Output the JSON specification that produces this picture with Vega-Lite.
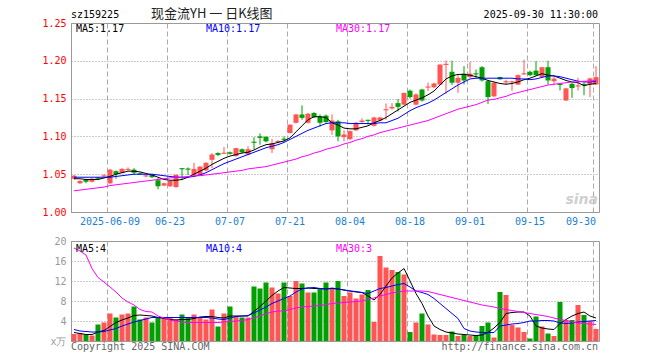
{
"$schema": "https://vega.github.io/schema/vega-lite/v6.json",
"background": "white",
"padding": {"left": 41, "top": 7, "right": 10, "bottom": 5},
"bounds": "flush",
"spacing": 29,
"config": {"view": {"stroke": "#999999", "strokeWidth": 1}, "axis": {"labelFont": "DejaVu Sans Mono", "labelFontSize": 10, "labelOverlap": false}, "text": {"font": "DejaVu Sans Mono", "fontSize": 10}},
"resolve": {"scale": {"x": "independent"}},
"datasets": {"k": [
{"d":"2025-05-29","o":1.044,"h":1.049,"l":1.043,"c":1.048,"v":1.4,"m5":1.044,"m10":1.046,"m30":1.028,"vm5":1.7,"vm10":2.3,"vm30":18.6},
{"d":"2025-05-30","o":1.038,"h":1.042,"l":1.037,"c":1.041,"v":1.6,"m5":1.044,"m10":1.046,"m30":1.029,"vm5":1.5,"vm10":2.0,"vm30":18.0},
{"d":"2025-06-03","o":1.043,"h":1.044,"l":1.038,"c":1.040,"v":1.3,"m5":1.043,"m10":1.046,"m30":1.030,"vm5":1.3,"vm10":1.9,"vm30":17.2},
{"d":"2025-06-04","o":1.040,"h":1.045,"l":1.039,"c":1.044,"v":1.1,"m5":1.043,"m10":1.046,"m30":1.031,"vm5":1.3,"vm10":1.8,"vm30":14.5},
{"d":"2025-06-05","o":1.0455,"h":1.046,"l":1.042,"c":1.044,"v":3.3,"m5":1.043,"m10":1.046,"m30":1.032,"vm5":1.8,"vm10":1.8,"vm30":12.7},
{"d":"2025-06-06","o":1.047,"h":1.050,"l":1.046,"c":1.0485,"v":3.7,"m5":1.045,"m10":1.046,"m30":1.033,"vm5":2.1,"vm10":1.9,"vm30":11.8},
{"d":"2025-06-09","o":1.038,"h":1.057,"l":1.037,"c":1.056,"v":5.5,"m5":1.047,"m10":1.046,"m30":1.035,"vm5":2.9,"vm10":2.2,"vm30":10.8},
{"d":"2025-06-10","o":1.054,"h":1.055,"l":1.044,"c":1.050,"v":4.7,"m5":1.050,"m10":1.047,"m30":1.036,"vm5":3.7,"vm10":2.5,"vm30":9.8},
{"d":"2025-06-11","o":1.052,"h":1.058,"l":1.051,"c":1.057,"v":5.3,"m5":1.052,"m10":1.048,"m30":1.037,"vm5":4.2,"vm10":3.0,"vm30":8.6},
{"d":"2025-06-12","o":1.0555,"h":1.059,"l":1.055,"c":1.057,"v":5.5,"m5":1.054,"m10":1.049,"m30":1.038,"vm5":4.6,"vm10":3.4,"vm30":7.8},
{"d":"2025-06-13","o":1.056,"h":1.058,"l":1.049,"c":1.052,"v":6.9,"m5":1.054,"m10":1.050,"m30":1.039,"vm5":5.1,"vm10":3.8,"vm30":7.2},
{"d":"2025-06-16","o":1.051,"h":1.052,"l":1.049,"c":1.0495,"v":4.3,"m5":1.053,"m10":1.050,"m30":1.040,"vm5":5.2,"vm10":4.1,"vm30":6.3},
{"d":"2025-06-17","o":1.047,"h":1.050,"l":1.046,"c":1.0485,"v":4.7,"m5":1.051,"m10":1.050,"m30":1.041,"vm5":5.1,"vm10":4.4,"vm30":5.9},
{"d":"2025-06-18","o":1.049,"h":1.050,"l":1.045,"c":1.046,"v":3.7,"m5":1.049,"m10":1.050,"m30":1.042,"vm5":5.0,"vm10":4.7,"vm30":5.8},
{"d":"2025-06-19","o":1.042,"h":1.045,"l":1.030,"c":1.034,"v":4.7,"m5":1.046,"m10":1.049,"m30":1.043,"vm5":4.7,"vm10":4.7,"vm30":5.0},
{"d":"2025-06-20","o":1.035,"h":1.039,"l":1.034,"c":1.038,"v":4.5,"m5":1.043,"m10":1.048,"m30":1.044,"vm5":4.5,"vm10":4.7,"vm30":4.6},
{"d":"2025-06-23","o":1.034,"h":1.042,"l":1.033,"c":1.041,"v":4.7,"m5":1.042,"m10":1.047,"m30":1.045,"vm5":4.3,"vm10":4.7,"vm30":4.2},
{"d":"2025-06-24","o":1.033,"h":1.050,"l":1.032,"c":1.049,"v":4.3,"m5":1.042,"m10":1.046,"m30":1.046,"vm5":4.2,"vm10":4.7,"vm30":4.0},
{"d":"2025-06-25","o":1.058,"h":1.058,"l":1.042,"c":1.0565,"v":5.3,"m5":1.043,"m10":1.046,"m30":1.046,"vm5":4.3,"vm10":4.7,"vm30":3.8},
{"d":"2025-06-26","o":1.0575,"h":1.059,"l":1.049,"c":1.056,"v":4.7,"m5":1.046,"m10":1.046,"m30":1.047,"vm5":4.3,"vm10":4.7,"vm30":3.7},
{"d":"2025-06-27","o":1.049,"h":1.065,"l":1.048,"c":1.057,"v":5.3,"m5":1.050,"m10":1.047,"m30":1.048,"vm5":4.5,"vm10":4.7,"vm30":3.7},
{"d":"2025-06-30","o":1.049,"h":1.061,"l":1.048,"c":1.060,"v":4.7,"m5":1.054,"m10":1.049,"m30":1.048,"vm5":4.8,"vm10":4.7,"vm30":3.7},
{"d":"2025-07-01","o":1.055,"h":1.066,"l":1.054,"c":1.065,"v":4.3,"m5":1.058,"m10":1.052,"m30":1.049,"vm5":4.9,"vm10":4.7,"vm30":3.7},
{"d":"2025-07-02","o":1.069,"h":1.078,"l":1.058,"c":1.076,"v":6.3,"m5":1.063,"m10":1.056,"m30":1.050,"vm5":4.9,"vm10":4.6,"vm30":3.7},
{"d":"2025-07-03","o":1.078,"h":1.079,"l":1.074,"c":1.0755,"v":2.9,"m5":1.067,"m10":1.060,"m30":1.051,"vm5":4.7,"vm10":4.4,"vm30":3.7},
{"d":"2025-07-04","o":1.077,"h":1.086,"l":1.077,"c":1.0785,"v":5.5,"m5":1.071,"m10":1.064,"m30":1.052,"vm5":4.6,"vm10":4.3,"vm30":3.8},
{"d":"2025-07-07","o":1.079,"h":1.080,"l":1.076,"c":1.077,"v":6.9,"m5":1.074,"m10":1.067,"m30":1.053,"vm5":5.0,"vm10":4.6,"vm30":3.9},
{"d":"2025-07-08","o":1.074,"h":1.085,"l":1.073,"c":1.0845,"v":5.0,"m5":1.076,"m10":1.070,"m30":1.054,"vm5":5.0,"vm10":4.9,"vm30":4.0},
{"d":"2025-07-09","o":1.083,"h":1.084,"l":1.078,"c":1.079,"v":4.7,"m5":1.078,"m10":1.073,"m30":1.055,"vm5":5.0,"vm10":5.0,"vm30":4.1},
{"d":"2025-07-10","o":1.076,"h":1.087,"l":1.075,"c":1.083,"v":4.7,"m5":1.079,"m10":1.076,"m30":1.057,"vm5":5.0,"vm10":5.1,"vm30":4.3},
{"d":"2025-07-11","o":1.093,"h":1.099,"l":1.083,"c":1.0915,"v":10.9,"m5":1.082,"m10":1.079,"m30":1.058,"vm5":5.9,"vm10":5.6,"vm30":4.6},
{"d":"2025-07-14","o":1.100,"h":1.104,"l":1.089,"c":1.098,"v":10.5,"m5":1.086,"m10":1.082,"m30":1.059,"vm5":6.9,"vm10":6.2,"vm30":5.0},
{"d":"2025-07-15","o":1.0995,"h":1.100,"l":1.092,"c":1.0935,"v":11.7,"m5":1.089,"m10":1.085,"m30":1.060,"vm5":8.0,"vm10":6.8,"vm30":5.5},
{"d":"2025-07-16","o":1.083,"h":1.0965,"l":1.078,"c":1.091,"v":10.7,"m5":1.090,"m10":1.087,"m30":1.062,"vm5":9.1,"vm10":7.5,"vm30":5.8},
{"d":"2025-07-17","o":1.0925,"h":1.095,"l":1.091,"c":1.094,"v":9.5,"m5":1.092,"m10":1.089,"m30":1.064,"vm5":10.0,"vm10":8.0,"vm30":6.0},
{"d":"2025-07-18","o":1.097,"h":1.100,"l":1.093,"c":1.0955,"v":11.7,"m5":1.094,"m10":1.092,"m30":1.066,"vm5":10.7,"vm10":8.5,"vm30":6.0},
{"d":"2025-07-21","o":1.1045,"h":1.116,"l":1.104,"c":1.1155,"v":9.0,"m5":1.098,"m10":1.096,"m30":1.068,"vm5":10.6,"vm10":9.0,"vm30":6.3},
{"d":"2025-07-22","o":1.118,"h":1.130,"l":1.117,"c":1.129,"v":12.0,"m5":1.106,"m10":1.100,"m30":1.070,"vm5":10.5,"vm10":9.8,"vm30":6.6},
{"d":"2025-07-23","o":1.129,"h":1.141,"l":1.122,"c":1.1245,"v":11.5,"m5":1.114,"m10":1.104,"m30":1.073,"vm5":10.5,"vm10":10.4,"vm30":6.8},
{"d":"2025-07-24","o":1.118,"h":1.131,"l":1.117,"c":1.130,"v":9.7,"m5":1.122,"m10":1.108,"m30":1.075,"vm5":10.6,"vm10":10.6,"vm30":6.9},
{"d":"2025-07-25","o":1.131,"h":1.132,"l":1.1245,"c":1.1255,"v":9.7,"m5":1.126,"m10":1.111,"m30":1.078,"vm5":10.5,"vm10":10.7,"vm30":7.0},
{"d":"2025-07-28","o":1.1265,"h":1.129,"l":1.113,"c":1.118,"v":10.5,"m5":1.126,"m10":1.114,"m30":1.080,"vm5":10.5,"vm10":10.5,"vm30":7.1},
{"d":"2025-07-29","o":1.1275,"h":1.129,"l":1.118,"c":1.119,"v":11.7,"m5":1.125,"m10":1.117,"m30":1.083,"vm5":10.4,"vm10":10.4,"vm30":7.3},
{"d":"2025-07-30","o":1.108,"h":1.129,"l":1.102,"c":1.121,"v":10.6,"m5":1.118,"m10":1.118,"m30":1.085,"vm5":10.5,"vm10":10.6,"vm30":7.5},
{"d":"2025-07-31","o":1.120,"h":1.122,"l":1.0935,"c":1.100,"v":12.0,"m5":1.115,"m10":1.118,"m30":1.087,"vm5":10.4,"vm10":10.4,"vm30":7.6},
{"d":"2025-08-01","o":1.099,"h":1.108,"l":1.0935,"c":1.1025,"v":9.0,"m5":1.111,"m10":1.118,"m30":1.090,"vm5":10.2,"vm10":10.2,"vm30":7.7},
{"d":"2025-08-04","o":1.0965,"h":1.108,"l":1.095,"c":1.107,"v":9.7,"m5":1.110,"m10":1.117,"m30":1.092,"vm5":10.0,"vm10":10.0,"vm30":7.8},
{"d":"2025-08-05","o":1.108,"h":1.119,"l":1.107,"c":1.118,"v":8.5,"m5":1.110,"m10":1.117,"m30":1.095,"vm5":9.8,"vm10":9.9,"vm30":7.9},
{"d":"2025-08-06","o":1.119,"h":1.124,"l":1.118,"c":1.121,"v":9.3,"m5":1.112,"m10":1.117,"m30":1.097,"vm5":9.7,"vm10":9.7,"vm30":8.0},
{"d":"2025-08-07","o":1.122,"h":1.122,"l":1.1155,"c":1.1205,"v":10.2,"m5":1.114,"m10":1.117,"m30":1.100,"vm5":9.0,"vm10":9.5,"vm30":8.3},
{"d":"2025-08-08","o":1.114,"h":1.126,"l":1.113,"c":1.125,"v":3.8,"m5":1.118,"m10":1.117,"m30":1.102,"vm5":8.2,"vm10":10.0,"vm30":8.6},
{"d":"2025-08-11","o":1.121,"h":1.126,"l":1.120,"c":1.125,"v":17.0,"m5":1.121,"m10":1.118,"m30":1.105,"vm5":9.3,"vm10":10.5,"vm30":9.0},
{"d":"2025-08-12","o":1.1345,"h":1.1435,"l":1.122,"c":1.136,"v":14.7,"m5":1.125,"m10":1.118,"m30":1.107,"vm5":11.0,"vm10":10.7,"vm30":9.3},
{"d":"2025-08-13","o":1.137,"h":1.144,"l":1.1355,"c":1.139,"v":14.2,"m5":1.130,"m10":1.121,"m30":1.109,"vm5":12.6,"vm10":11.0,"vm30":9.6},
{"d":"2025-08-14","o":1.144,"h":1.1495,"l":1.133,"c":1.139,"v":13.8,"m5":1.135,"m10":1.124,"m30":1.111,"vm5":13.6,"vm10":11.3,"vm30":9.8},
{"d":"2025-08-15","o":1.142,"h":1.158,"l":1.141,"c":1.1575,"v":13.3,"m5":1.140,"m10":1.129,"m30":1.113,"vm5":14.5,"vm10":11.5,"vm30":10.0},
{"d":"2025-08-18","o":1.1605,"h":1.162,"l":1.150,"c":1.152,"v":1.8,"m5":1.145,"m10":1.134,"m30":1.115,"vm5":12.0,"vm10":10.8,"vm30":10.0},
{"d":"2025-08-19","o":1.142,"h":1.157,"l":1.141,"c":1.1555,"v":3.7,"m5":1.148,"m10":1.138,"m30":1.117,"vm5":9.5,"vm10":10.0,"vm30":10.0},
{"d":"2025-08-20","o":1.162,"h":1.163,"l":1.146,"c":1.1475,"v":5.5,"m5":1.151,"m10":1.141,"m30":1.119,"vm5":7.5,"vm10":9.7,"vm30":10.0},
{"d":"2025-08-21","o":1.1645,"h":1.171,"l":1.160,"c":1.166,"v":3.3,"m5":1.155,"m10":1.144,"m30":1.121,"vm5":5.0,"vm10":9.3,"vm30":9.9},
{"d":"2025-08-22","o":1.165,"h":1.171,"l":1.164,"c":1.170,"v":1.3,"m5":1.160,"m10":1.148,"m30":1.124,"vm5":3.0,"vm10":8.5,"vm30":9.6},
{"d":"2025-08-25","o":1.1685,"h":1.1955,"l":1.168,"c":1.195,"v":1.2,"m5":1.168,"m10":1.153,"m30":1.127,"vm5":2.3,"vm10":7.5,"vm30":9.3},
{"d":"2025-08-26","o":1.1945,"h":1.2005,"l":1.1565,"c":1.196,"v":1.2,"m5":1.176,"m10":1.158,"m30":1.130,"vm5":1.8,"vm10":6.5,"vm30":9.0},
{"d":"2025-08-27","o":1.1855,"h":1.200,"l":1.168,"c":1.171,"v":1.9,"m5":1.180,"m10":1.163,"m30":1.133,"vm5":1.6,"vm10":5.5,"vm30":8.7},
{"d":"2025-08-28","o":1.171,"h":1.181,"l":1.1575,"c":1.1775,"v":1.0,"m5":1.182,"m10":1.168,"m30":1.136,"vm5":1.4,"vm10":4.5,"vm30":8.4},
{"d":"2025-08-29","o":1.183,"h":1.193,"l":1.1687,"c":1.174,"v":1.2,"m5":1.182,"m10":1.172,"m30":1.138,"vm5":1.3,"vm10":2.5,"vm30":8.1},
{"d":"2025-09-01","o":1.1785,"h":1.1985,"l":1.177,"c":1.183,"v":1.0,"m5":1.181,"m10":1.176,"m30":1.140,"vm5":1.2,"vm10":2.0,"vm30":7.8},
{"d":"2025-09-02","o":1.1835,"h":1.1885,"l":1.1775,"c":1.182,"v":1.2,"m5":1.179,"m10":1.177,"m30":1.142,"vm5":1.1,"vm10":1.8,"vm30":7.5},
{"d":"2025-09-03","o":1.1915,"h":1.193,"l":1.1725,"c":1.174,"v":3.0,"m5":1.177,"m10":1.177,"m30":1.145,"vm5":1.2,"vm10":1.7,"vm30":7.2},
{"d":"2025-09-04","o":1.173,"h":1.1745,"l":1.143,"c":1.152,"v":3.7,"m5":1.174,"m10":1.177,"m30":1.148,"vm5":1.7,"vm10":1.7,"vm30":7.0},
{"d":"2025-09-05","o":1.153,"h":1.172,"l":1.152,"c":1.171,"v":0.7,"m5":1.172,"m10":1.177,"m30":1.149,"vm5":2.6,"vm10":1.7,"vm30":6.8},
{"d":"2025-09-08","o":1.1785,"h":1.179,"l":1.175,"c":1.1755,"v":9.8,"m5":1.170,"m10":1.177,"m30":1.151,"vm5":3.7,"vm10":3.0,"vm30":6.5},
{"d":"2025-09-09","o":1.1715,"h":1.175,"l":1.169,"c":1.173,"v":9.2,"m5":1.169,"m10":1.177,"m30":1.153,"vm5":5.5,"vm10":3.2,"vm30":6.3},
{"d":"2025-09-10","o":1.1715,"h":1.1735,"l":1.1605,"c":1.173,"v":3.2,"m5":1.170,"m10":1.177,"m30":1.156,"vm5":5.7,"vm10":3.4,"vm30":6.1},
{"d":"2025-09-11","o":1.1685,"h":1.182,"l":1.168,"c":1.181,"v":2.7,"m5":1.172,"m10":1.176,"m30":1.158,"vm5":5.8,"vm10":3.5,"vm30":5.9},
{"d":"2025-09-12","o":1.182,"h":1.2015,"l":1.1815,"c":1.1835,"v":1.8,"m5":1.175,"m10":1.176,"m30":1.160,"vm5":5.8,"vm10":3.7,"vm30":5.7},
{"d":"2025-09-15","o":1.1855,"h":1.187,"l":1.180,"c":1.181,"v":0.5,"m5":1.177,"m10":1.175,"m30":1.162,"vm5":5.0,"vm10":4.0,"vm30":5.5},
{"d":"2025-09-16","o":1.187,"h":1.1995,"l":1.180,"c":1.181,"v":4.9,"m5":1.180,"m10":1.176,"m30":1.164,"vm5":3.0,"vm10":4.0,"vm30":5.3},
{"d":"2025-09-17","o":1.1785,"h":1.192,"l":1.178,"c":1.1915,"v":2.9,"m5":1.183,"m10":1.178,"m30":1.166,"vm5":2.6,"vm10":4.1,"vm30":5.1},
{"d":"2025-09-18","o":1.1915,"h":1.200,"l":1.1685,"c":1.174,"v":1.5,"m5":1.181,"m10":1.180,"m30":1.168,"vm5":2.4,"vm10":4.1,"vm30":4.9},
{"d":"2025-09-19","o":1.173,"h":1.1785,"l":1.1687,"c":1.1765,"v":1.0,"m5":1.180,"m10":1.180,"m30":1.169,"vm5":2.3,"vm10":4.0,"vm30":4.6},
{"d":"2025-09-22","o":1.1695,"h":1.1695,"l":1.1607,"c":1.168,"v":7.8,"m5":1.177,"m10":1.179,"m30":1.170,"vm5":3.5,"vm10":3.6,"vm30":4.3},
{"d":"2025-09-23","o":1.1475,"h":1.164,"l":1.147,"c":1.1635,"v":4.2,"m5":1.174,"m10":1.177,"m30":1.171,"vm5":4.3,"vm10":3.5,"vm30":4.1},
{"d":"2025-09-24","o":1.1695,"h":1.171,"l":1.151,"c":1.164,"v":4.2,"m5":1.172,"m10":1.175,"m30":1.172,"vm5":5.0,"vm10":3.6,"vm30":3.8},
{"d":"2025-09-25","o":1.166,"h":1.1775,"l":1.1607,"c":1.1675,"v":7.2,"m5":1.171,"m10":1.173,"m30":1.172,"vm5":5.5,"vm10":3.8,"vm30":3.6},
{"d":"2025-09-26","o":1.1695,"h":1.171,"l":1.1545,"c":1.168,"v":5.2,"m5":1.167,"m10":1.172,"m30":1.173,"vm5":5.8,"vm10":3.9,"vm30":3.5},
{"d":"2025-09-29","o":1.1687,"h":1.1775,"l":1.152,"c":1.1767,"v":4.0,"m5":1.169,"m10":1.172,"m30":1.173,"vm5":5.0,"vm10":4.0,"vm30":3.4},
{"d":"2025-09-30","o":1.1687,"h":1.193,"l":1.168,"c":1.1784,"v":2.4,"m5":1.170,"m10":1.173,"m30":1.174,"vm5":4.6,"vm10":4.1,"vm30":3.3}
]},
"vconcat": [
{
"width": 528, "height": 189,
"data": {"name": "k"},
"encoding": {
  "x": {"field": "d", "type": "ordinal", "scale": {"type": "band", "paddingInner": 0.16, "paddingOuter": 0.08},
        "axis": {"values": ["2025-06-09","2025-06-23","2025-07-07","2025-07-21","2025-08-04","2025-08-18","2025-09-01","2025-09-15","2025-09-30"],
                 "labelExpr": "datum.value == '2025-06-09' ? datum.value : substring(datum.value, 5, 10)",
                 "bandPosition": 0, "grid": true, "gridColor": "#aaaaaa", "gridDash": [5, 3], "ticks": false, "domain": false, "title": null,
                 "labelColor": "#1a7fd4", "labelPadding": 4, "labelAngle": 0, "labelOverlap": false,
                 "labelAlign": {"condition": {"test": "datum.value == '2025-09-30'", "value": "right"}, "value": "center"}}}
},
"layer": [
{"data": {"values": [{"t": "sina"}]}, "mark": {"type": "text", "align": "right", "baseline": "alphabetic", "color": "#cfcfcf", "font": "DejaVu Sans", "fontSize": 14, "fontWeight": "bold", "fontStyle": "italic"},
 "encoding": {"text": {"field": "t"}, "x": {"value": 527}, "y": {"value": 181}}},
{"mark": {"type": "rule", "strokeWidth": 1},
 "encoding": {
  "y": {"field": "l", "type": "quantitative", "scale": {"domain": [1, 1.25], "nice": false, "zero": false},
        "axis": {"values": [1, 1.05, 1.1, 1.15, 1.2, 1.25], "tickCount": 20, "format": ".2f", "labelColor": "#ff0000", "labelOverlap": false, "grid": true, "gridColor": "#999999", "gridDash": [1, 2], "ticks": false, "tickSize": 0, "domain": false, "title": null, "labelPadding": 5}},
  "y2": {"field": "h"},
  "color": {"condition": {"test": "datum.c >= datum.o", "value": "#ff5555"}, "value": "#00a000"}}},
{"mark": {"type": "bar"},
 "encoding": {
  "y": {"field": "o", "type": "quantitative", "axis": {"title": null, "tickCount": 20}},
  "y2": {"field": "c"},
  "color": {"condition": {"test": "datum.c >= datum.o", "value": "#ff5555"}, "value": "#00a000"}}},
{"mark": {"type": "line", "color": "#000000", "strokeWidth": 1},
 "encoding": {"y": {"field": "m5", "type": "quantitative", "axis": {"title": null, "tickCount": 20}}}},
{"mark": {"type": "line", "color": "#0000ff", "strokeWidth": 1},
 "encoding": {"y": {"field": "m10", "type": "quantitative", "axis": {"title": null, "tickCount": 20}}}},
{"mark": {"type": "line", "color": "#ff00ff", "strokeWidth": 1},
 "encoding": {"y": {"field": "m30", "type": "quantitative", "axis": {"title": null, "tickCount": 20}}}},
{"data": {"values": [{"t": "sz159225"}]}, "mark": {"type": "text", "align": "left", "baseline": "alphabetic", "color": "#000000", "fontSize": 10},
 "encoding": {"text": {"field": "t"}, "x": {"value": 0}, "y": {"value": -5}}},
{"data": {"values": [{"t": "现金流YH 一 日K线图"}]}, "mark": {"type": "text", "align": "left", "baseline": "alphabetic", "color": "#222222", "font": "Noto Sans CJK SC", "fontSize": 13},
 "encoding": {"text": {"field": "t"}, "x": {"value": 80}, "y": {"value": -5}}},
{"data": {"values": [{"t": "2025-09-30 11:30:00"}]}, "mark": {"type": "text", "align": "right", "baseline": "alphabetic", "color": "#000000", "fontSize": 10},
 "encoding": {"text": {"field": "t"}, "x": {"value": 527}, "y": {"value": -5}}},
{"data": {"values": [{"t": "MA5:1.17", "x": 5, "col": "#000000"}, {"t": "MA10:1.17", "x": 135, "col": "#0000ff"}, {"t": "MA30:1.17", "x": 265, "col": "#ff00ff"}]},
 "mark": {"type": "text", "align": "left", "baseline": "top", "fontSize": 10},
 "encoding": {"text": {"field": "t"}, "x": {"field": "x", "type": "quantitative", "scale": null}, "y": {"value": 1}, "color": {"field": "col", "type": "nominal", "scale": null}}}
]
},
{
"width": 528, "height": 100,
"data": {"name": "k"},
"encoding": {
  "x": {"field": "d", "type": "ordinal", "scale": {"type": "band", "paddingInner": 0.16, "paddingOuter": 0.08},
        "axis": {"values": ["2025-06-09","2025-06-23","2025-07-07","2025-07-21","2025-08-04","2025-08-18","2025-09-01","2025-09-15","2025-09-30"],
                 "bandPosition": 0, "grid": true, "gridColor": "#aaaaaa", "gridDash": [5, 3], "ticks": false, "domain": false, "labels": false, "title": null}}
},
"layer": [
{"data": {"values": [{"t": "sina"}]}, "mark": {"type": "text", "align": "right", "baseline": "alphabetic", "color": "#e6e6e6", "font": "DejaVu Sans", "fontSize": 14, "fontWeight": "bold", "fontStyle": "italic"},
 "encoding": {"text": {"field": "t"}, "x": {"value": 527}, "y": {"value": 94}}},
{"mark": {"type": "bar"},
 "encoding": {
  "y": {"field": "v", "type": "quantitative", "scale": {"domain": [0, 20], "nice": false},
        "axis": {"values": [0, 4, 8, 12, 16, 20], "tickCount": 20, "labelExpr": "datum.value == 0 ? 'x万' : datum.label", "labelColor": "#999999", "labelOverlap": false, "grid": true, "gridColor": "#999999", "gridDash": [1, 2], "ticks": false, "tickSize": 0, "domain": false, "title": null, "labelPadding": 5}},
  "color": {"condition": {"test": "datum.c >= datum.o", "value": "#ff5555"}, "value": "#00a000"}}},
{"mark": {"type": "line", "color": "#000000", "strokeWidth": 1},
 "encoding": {"y": {"field": "vm5", "type": "quantitative", "axis": {"title": null, "tickCount": 20}}}},
{"mark": {"type": "line", "color": "#0000ff", "strokeWidth": 1},
 "encoding": {"y": {"field": "vm10", "type": "quantitative", "axis": {"title": null, "tickCount": 20}}}},
{"mark": {"type": "line", "color": "#ff00ff", "strokeWidth": 1},
 "encoding": {"y": {"field": "vm30", "type": "quantitative", "axis": {"title": null, "tickCount": 20}}}},
{"data": {"values": [{"t": "MA5:4", "x": 5, "col": "#000000"}, {"t": "MA10:4", "x": 135, "col": "#0000ff"}, {"t": "MA30:3", "x": 265, "col": "#ff00ff"}]},
 "mark": {"type": "text", "align": "left", "baseline": "top", "fontSize": 10},
 "encoding": {"text": {"field": "t"}, "x": {"field": "x", "type": "quantitative", "scale": null}, "y": {"value": 3}, "color": {"field": "col", "type": "nominal", "scale": null}}},
{"data": {"values": [{"t": "Copyright 2025 SINA.COM"}]}, "mark": {"type": "text", "align": "left", "baseline": "top", "color": "#666666", "fontSize": 10},
 "encoding": {"text": {"field": "t"}, "x": {"value": 0}, "y": {"value": 101}}},
{"data": {"values": [{"t": "http://finance.sina.com.cn"}]}, "mark": {"type": "text", "align": "right", "baseline": "top", "color": "#666666", "fontSize": 10},
 "encoding": {"text": {"field": "t"}, "x": {"value": 527}, "y": {"value": 101}}}
]
}
]
}
